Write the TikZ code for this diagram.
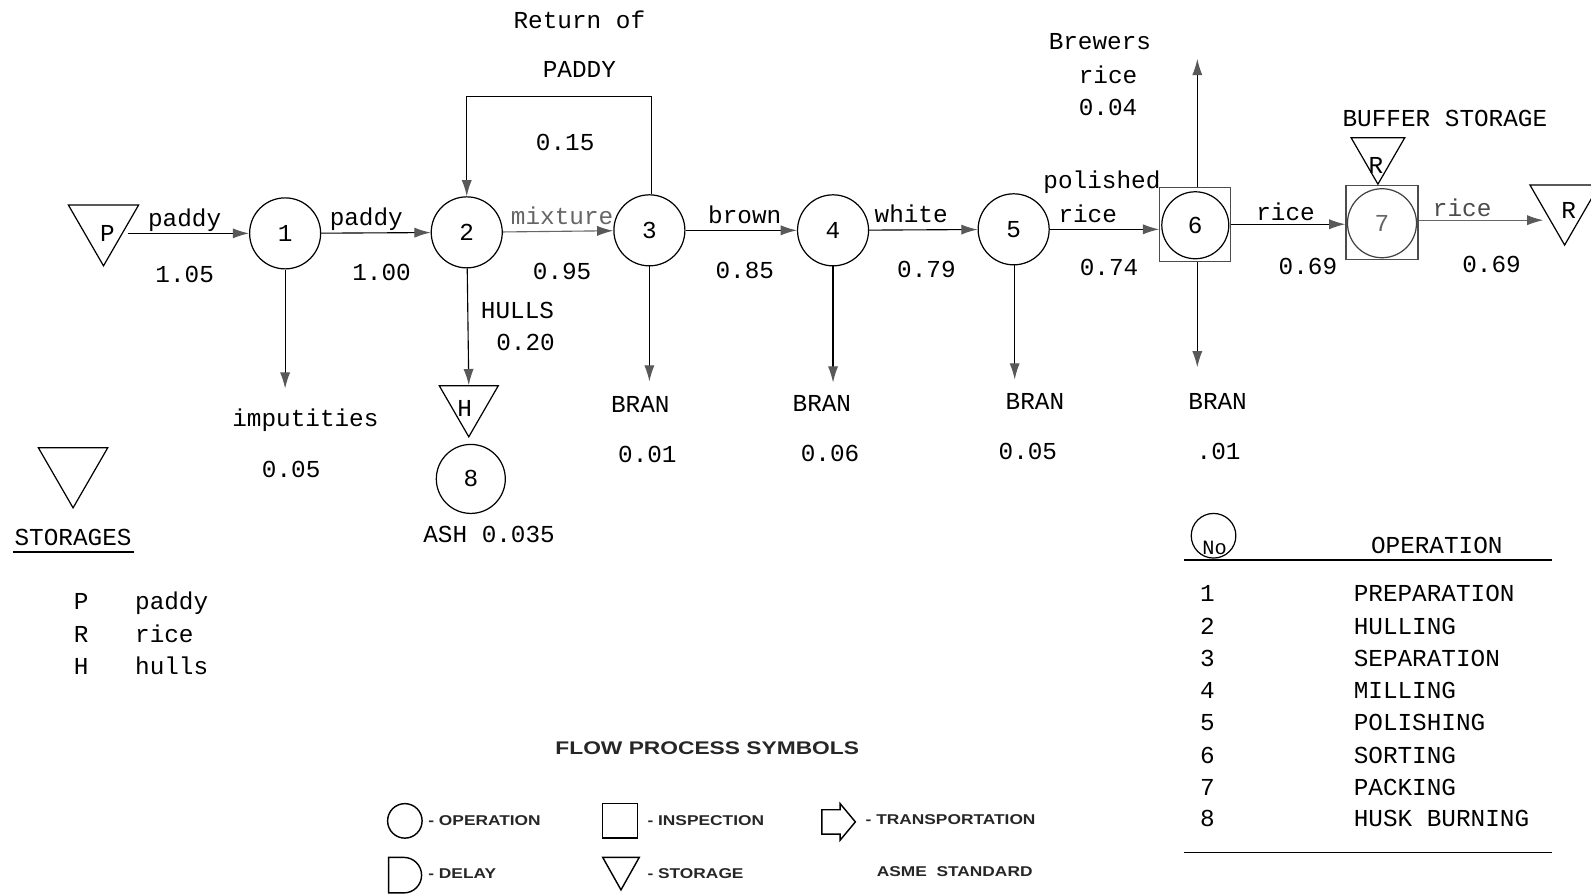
\documentclass[tikz,border=0pt]{standalone}
\usepackage{fontspec}
\setmainfont{Liberation Mono}
\newfontfamily\lsans{Liberation Sans}
\usetikzlibrary{shapes.geometric,arrows.meta}
\newcommand{\lgd}[1]{\scalebox{1.22}[1]{#1}}
\begin{document}
\begin{tikzpicture}[x=1pt,y=-1pt,
  op/.style={circle,draw,line width=1.2pt,minimum size=70pt,inner sep=0pt,font=\fontsize{24}{28}\selectfont},
  stor/.style={regular polygon,regular polygon sides=3,shape border rotate=180,draw,line width=1.2pt,inner sep=0pt},
  insp/.style={rectangle,draw=black!70,line width=1.2pt,inner sep=0pt},
  arr/.style={line width=1.1pt,-{Latex[length=16pt,width=10pt,color=black!65]}},
  txt/.style={inner sep=0pt,anchor=base,font=\fontsize{24}{28}\selectfont},
  lg/.style={inner sep=0pt,anchor=west,font=\lsans\bfseries\fontsize{14}{16}\selectfont,text=black!85},
  sym/.style={draw,line width=1.4pt}]
\useasboundingbox (0,0) rectangle (1568,881);

% storage P
\node[stor,minimum size=80pt] (P) at (102,222) {};
\node[txt] at (106,238) {P};
% operations
\node[op] (n1) at (281,230) {1};
\node[op] (n2) at (460,229) {2};
\node[op] (n3) at (640,227) {3};
\node[op] (n4) at (821,227) {4};
\node[op] (n5) at (999,226) {5};
\node[insp,minimum width=70pt,minimum height=73pt] (s6) at (1178,221) {};
\node[op,minimum size=66pt] (n6) at (1178,222) {6};
\node[insp,minimum width=71pt,minimum height=73pt] (s7) at (1362,219) {};
\node[op,minimum size=68pt,draw=black!75] (n7) at (1362,220) {\textcolor{black!60}{7}};
\node[stor,minimum size=61pt] (B7) at (1358,151) {};
\node[txt] at (1356,171) {R};
\node[stor,minimum size=79pt] (R) at (1542,202) {};
\node[txt] at (1546,215) {R};
\coordinate (rin) at (1521,217);
% hulls
\node[stor,minimum size=67pt] (H) at (462,397) {};
\node[txt] at (458,410) {H};
\node[op,minimum size=68pt] (n8) at (464,472) {8};

% main flow
\draw[arr] (P.east |- n1) -- (n1);
\draw[arr] (n1) -- (n2);
\draw[arr,draw=black!60] (n2) -- (n3);
\draw[arr] (n3) -- (n4);
\draw[arr] (n4) -- (n5);
\draw[arr] (n5.east) -- (s6.west |- n5.east);
\draw[arr] (s6.east) -- (s7.west |- s6.east);
\draw[arr,draw=black!60] (s7.east |- rin) -- (rin);
% return of paddy
\coordinate (r3) at (642,95);
\coordinate (r2) at (460,95);
\draw[arr] (n3.north -| r3) -- (r3) -- (r2) -- (n2.north);
% side branches
\coordinate (d1) at (281,383);
\coordinate (d3) at (640,376);
\coordinate (d4) at (821,377);
\coordinate (d5) at (1000,374);
\coordinate (d6) at (1180,362);
\coordinate (u6) at (1180,58);
\draw[arr] (n1) -- (d1);
\draw[arr] (n2) -- (H.north);
\draw[arr] (n3) -- (d3);
\draw[arr] (n4) -- (d4);
\draw[arr] (n5.south -| d5) -- (d5);
\draw[arr] (s6.south -| d6) -- (d6);
\draw[arr] (s6.north -| u6) -- (u6);

% labels
\node[txt] at (571,28) {Return of};
\node[txt] at (571,76) {PADDY};
\node[txt] at (557,148) {0.15};
\node[txt] at (182,223) {paddy};
\node[txt] at (182,278) {1.05};
\node[txt] at (361,222) {paddy};
\node[txt] at (376,276) {1.00};
\node[txt,text=black!60] at (554,221) {mixture};
\node[txt] at (554,275) {0.95};
\node[txt] at (510,314) {HULLS};
\node[txt] at (518,345) {0.20};
\node[txt] at (734,220) {brown};
\node[txt] at (734,274) {0.85};
\node[txt] at (898,219) {white};
\node[txt] at (913,273) {0.79};
\node[txt] at (1086,186) {polished};
\node[txt] at (1072,219) {rice};
\node[txt] at (1093,272) {0.74};
\node[txt] at (1084,49) {Brewers};
\node[txt] at (1092,82) {rice};
\node[txt] at (1092,114) {0.04};
\node[txt] at (1200,404) {BRAN};
\node[txt] at (1201,453) {.01};
\node[txt] at (1267,217) {rice};
\node[txt] at (1289,271) {0.69};
\node[txt] at (1424,125) {BUFFER STORAGE};
\node[txt,text=black!70] at (1441,213) {rice};
\node[txt] at (1470,269) {0.69};
\node[txt] at (301,420) {imputities};
\node[txt] at (287,471) {0.05};
\node[txt] at (482,535) {ASH 0.035};
\node[txt] at (631,407) {BRAN};
\node[txt] at (638,456) {0.01};
\node[txt] at (810,406) {BRAN};
\node[txt] at (818,455) {0.06};
\node[txt] at (1020,404) {BRAN};
\node[txt] at (1013,453) {0.05};

% storages legend
\node[stor,minimum size=79pt] (LS) at (72,461) {};
\node[txt] at (72,538) {STORAGES};
\draw[line width=1.2pt] (13,544) -- (132,544);
\node[txt] at (80,601) {P};
\node[txt] at (80,633) {R};
\node[txt] at (80,665) {H};
\node[txt,anchor=base west] at (133,601) {paddy};
\node[txt,anchor=base west] at (133,633) {rice};
\node[txt,anchor=base west] at (133,665) {hulls};

% operation table
\node[circle,draw,line width=1.2pt,minimum size=44pt,inner sep=0pt] (no) at (1196,528) {};
\node[txt,font=\fontsize{20}{24}\selectfont] at (1197,546) {No};
\draw[line width=1.2pt] (1167,552) -- (1530,552);
\draw[line width=1.2pt] (1167,840) -- (1530,840);
\node[txt] at (1416,545) {OPERATION};
\foreach \n/\t/\yy in {1/PREPARATION/585,2/HULLING/617,3/SEPARATION/649,4/MILLING/680,5/POLISHING/712,6/SORTING/744,7/PACKING/776,8/HUSK BURNING/807}{
  \node[txt] at (1190,\yy+8) {\n};
  \node[txt,anchor=base west] at (1334,\yy+8) {\t};
}

% flow process symbols legend
\node[inner sep=0pt,font=\lsans\bfseries\fontsize{22}{26}\selectfont,text=black!85] at (697,737) {\scalebox{1.02}[0.82]{FLOW PROCESS SYMBOLS}};
\draw[sym] (399,809) circle (17);
\node[lg] at (422,809) {\lgd{- OPERATION}};
\draw[sym] (594,792) rectangle (628,826);
\node[lg] at (638,809) {\lgd{- INSPECTION}};
\draw[sym] (810,798) -- (828,798) -- (828,792) -- (843,810) -- (828,828) -- (828,822) -- (810,822) -- cycle;
\node[lg] at (853,808) {\lgd{- TRANSPORTATION}};
\draw[sym] (383,845) -- (398,845) arc (-90:90:17.5) -- (383,880) -- cycle;
\node[lg] at (422,861) {\lgd{- DELAY}};
\draw[sym] (594,845) -- (630,845) -- (612,877) -- cycle;
\node[lg] at (638,861) {\lgd{- STORAGE}};
\node[lg] at (864,859) {\lgd{ASME\ \ STANDARD}};
\end{tikzpicture}
\end{document}
